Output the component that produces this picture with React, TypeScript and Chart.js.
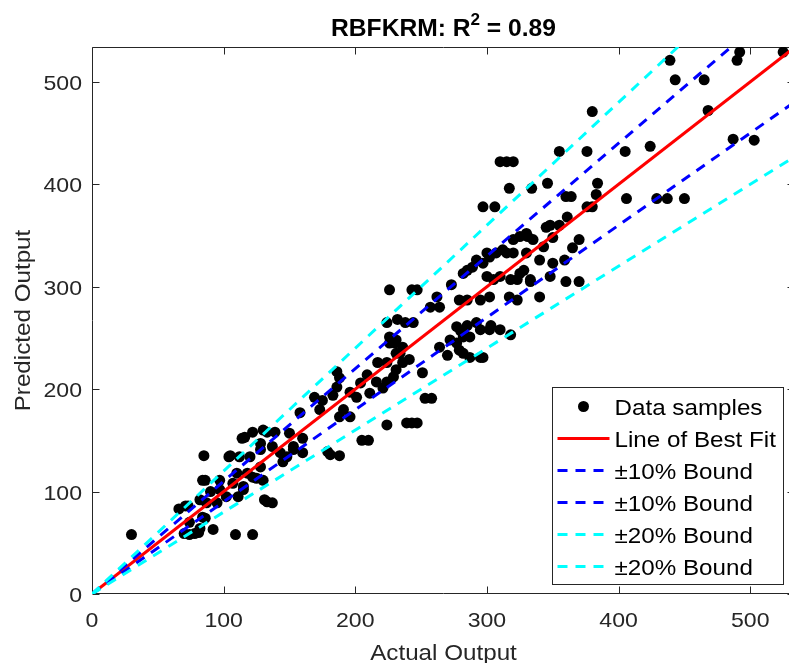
import { useEffect, useRef } from "react";
import { Chart, registerables } from "chart.js";

Chart.register(...registerables);

// ---- data ----
const actualOutput = [
  30, 70, 74, 78, 81, 109, 122, 92, 82, 74, 84, 86, 66, 73, 71, 82, 95, 87, 131, 133,
  137, 111, 102, 90, 97, 115, 115, 107, 84, 97, 86, 110, 118, 125, 122, 130, 128, 85, 105, 104,
  120, 112, 143, 148, 128, 137, 153, 160, 145, 153, 114, 116, 122, 130, 133, 139, 150, 128, 160, 179,
  188, 181, 205, 210, 158, 173, 191, 196, 188, 224, 239, 243, 247, 169, 175, 183, 186, 196, 201, 211,
  253, 258, 188, 186, 204, 209, 216, 224, 221, 229, 231, 251, 217, 236, 224, 234, 231, 241, 270, 282,
  287, 295, 297, 226, 230, 236, 231, 226, 264, 279, 277, 272, 282, 287, 318, 224, 232, 238, 244, 277,
  292, 295, 302, 310, 280, 285, 226, 243, 247, 257, 264, 273, 279, 285, 295, 302, 317, 323, 340, 282,
  289, 300, 305, 310, 318, 323, 333, 328, 325, 333, 360, 370, 348, 297, 302, 307, 312, 320, 330, 340,
  315, 350, 359, 365, 343, 320, 325, 331, 335, 345, 350, 370, 348, 355, 361, 297, 306, 376, 380, 360,
  364, 383, 406, 429, 437, 450, 317, 334, 346, 384, 310, 315, 320, 355, 376, 405, 424, 487, 503, 380,
  468, 443, 465, 439, 490, 492, 525, 300, 292, 285, 330, 262, 303,
];
const predictedOutput = [
  58, 59, 58, 59, 60, 58, 58, 63, 64, 70, 75, 74, 83, 86, 86, 92, 89, 89, 92, 90,
  89, 95, 95, 100, 102, 102, 105, 108, 111, 111, 111, 118, 118, 113, 114, 111, 124, 135, 135, 134,
  134, 134, 138, 134, 141, 144, 141, 138, 129, 144, 152, 153, 158, 160, 158, 158, 157, 147, 152, 139,
  135, 136, 150, 150, 177, 180, 180, 173, 173, 165, 167, 167, 167, 192, 189, 194, 202, 197, 192, 196,
  191, 191, 211, 217, 206, 214, 207, 207, 201, 212, 219, 216, 226, 226, 226, 235, 235, 229, 233, 235,
  231, 231, 231, 245, 245, 241, 248, 251, 241, 238, 245, 248, 251, 251, 253, 265, 268, 265, 265, 261,
  265, 258, 258, 258, 257, 262, 297, 297, 297, 280, 280, 302, 287, 287, 287, 290, 290, 287, 290, 313,
  319, 310, 307, 310, 307, 307, 307, 316, 313, 305, 305, 305, 310, 323, 329, 333, 336, 333, 333, 326,
  333, 323, 326, 338, 339, 346, 349, 349, 346, 358, 348, 346, 360, 360, 368, 378, 378, 378, 378, 388,
  388, 390, 386, 386, 386, 386, 396, 396, 401, 401, 422, 422, 422, 432, 432, 432, 437, 444, 443, 471,
  472, 502, 502, 521, 521, 529, 529, 333, 326, 316, 352, 290, 262,
];

const fitSlope = 1.0;
const boundSlopes = [1.1, 0.9, 1.2, 0.8];
const lineRange = [0, 534];
const xTickValues = [0, 100, 200, 300, 400, 500];
const yTickValues = [0, 100, 200, 300, 400, 500];
const axisMax = 534;
const legendLabels = [
  "Data samples",
  "Line of Best Fit",
  "±10% Bound",
  "±10% Bound",
  "±20% Bound",
  "±20% Bound",
];
const titleParts = ["RBFKRM: R", "2", " = 0.89"];
const xTitle = "Actual Output";
const yTitle = "Predicted Output";

// ---- style ----
const FONT = "'Liberation Sans', Arial, Helvetica, sans-serif";
const AXIS = "#262626";
const DASH = [10, 8];
const SX = 1.1; // horizontal glyph stretch to match the reference font width

const linePts = (slope: number) => lineRange.map((x) => ({ x, y: slope * x }));

function drawText(
  ctx: CanvasRenderingContext2D,
  text: string,
  x: number,
  y: number,
  font: string,
  color: string,
  align: CanvasTextAlign,
  sx: number,
  rot = 0
) {
  ctx.save();
  ctx.translate(x, y);
  if (rot) ctx.rotate(rot);
  ctx.scale(sx, 1);
  ctx.font = font;
  ctx.fillStyle = color;
  ctx.textAlign = align;
  ctx.textBaseline = "alphabetic";
  ctx.fillText(text, 0, 0);
  ctx.restore();
}

const decorPlugin = {
  id: "decor",
  beforeDatasetsDraw(chart: any) {
    const { ctx, chartArea: a, scales } = chart;
    ctx.save();
    ctx.strokeStyle = AXIS;
    ctx.lineWidth = 1;
    ctx.beginPath();
    const L = Math.round(a.left) + 0.5;
    const R = Math.round(a.right) - 0.5;
    const T = Math.round(a.top) + 0.5;
    const B = Math.round(a.bottom) - 0.5;
    ctx.moveTo(L, T);
    ctx.lineTo(R, T);
    ctx.lineTo(R, B);
    ctx.lineTo(L, B);
    ctx.closePath();
    const tl = 7;
    xTickValues.forEach((v) => {
      const x = Math.round(scales.x.getPixelForValue(v)) + 0.5;
      ctx.moveTo(x, B);
      ctx.lineTo(x, B - tl);
      ctx.moveTo(x, T);
      ctx.lineTo(x, T + tl);
    });
    yTickValues.forEach((v) => {
      const y = Math.round(scales.y.getPixelForValue(v)) + 0.5;
      ctx.moveTo(L, y);
      ctx.lineTo(L + tl, y);
      ctx.moveTo(R, y);
      ctx.lineTo(R - tl, y);
    });
    ctx.stroke();
    ctx.restore();

    // tick labels
    const tickFont = `21px ${FONT}`;
    xTickValues.forEach((v) => {
      drawText(ctx, String(v), scales.x.getPixelForValue(v), a.bottom + 33, tickFont, AXIS, "center", SX);
    });
    yTickValues.forEach((v) => {
      drawText(ctx, String(v), a.left - 10, scales.y.getPixelForValue(v) + 8, tickFont, AXIS, "right", SX);
    });
    // axis titles
    const titleFont = `22px ${FONT}`;
    drawText(ctx, xTitle, (a.left + a.right) / 2, a.bottom + 66, titleFont, AXIS, "center", SX);
    drawText(ctx, yTitle, 30, (a.top + a.bottom) / 2, titleFont, AXIS, "center", SX, -Math.PI / 2);
  },
  afterDraw(chart: any) {
    const { ctx, chartArea: a } = chart;
    ctx.save();
    // title
    const mainFont = `bold 23px ${FONT}`;
    const supFont = `bold 16px ${FONT}`;
    const tsx = 1.07;
    ctx.font = mainFont;
    const w1 = ctx.measureText(titleParts[0]).width * tsx;
    const w3 = ctx.measureText(titleParts[2]).width * tsx;
    ctx.font = supFont;
    const w2 = ctx.measureText(titleParts[1]).width * tsx;
    const cx = (a.left + a.right) / 2;
    let tx = cx - (w1 + w2 + w3) / 2;
    drawText(ctx, titleParts[0], tx, 36, mainFont, "#000", "left", tsx);
    tx += w1;
    drawText(ctx, titleParts[1], tx, 25, supFont, "#000", "left", tsx);
    tx += w2;
    drawText(ctx, titleParts[2], tx, 36, mainFont, "#000", "left", tsx);

    // legend
    const bx = Math.round(a.right - 243) + 0.5;
    const by = Math.round(a.bottom - 207) + 0.5;
    const bw = 231;
    const bh = 197;
    ctx.fillStyle = "#fff";
    ctx.fillRect(bx, by, bw, bh);
    ctx.strokeStyle = AXIS;
    ctx.lineWidth = 1;
    ctx.strokeRect(bx, by, bw, bh);
    chart.data.datasets.forEach((ds: any, i: number) => {
      const y = by + 19 + i * 32;
      if (ds.showLine) {
        ctx.save();
        ctx.strokeStyle = ds.borderColor;
        ctx.lineWidth = ds.borderWidth;
        ctx.setLineDash(ds.borderDash || []);
        ctx.beginPath();
        ctx.moveTo(bx + 5, y);
        ctx.lineTo(bx + 57, y);
        ctx.stroke();
        ctx.restore();
      } else {
        ctx.fillStyle = ds.backgroundColor;
        ctx.beginPath();
        ctx.arc(bx + 31, y, 5.5, 0, Math.PI * 2);
        ctx.fill();
      }
      drawText(ctx, legendLabels[i], bx + 62, y + 8, `22px ${FONT}`, "#000", "left", SX);
    });
    ctx.restore();
  },
};

export default function App() {
  const ref = useRef<HTMLCanvasElement>(null);
  useEffect(() => {
    document.body.style.margin = "0";
    document.body.style.overflow = "hidden";
    const points = actualOutput.map((x, i) => ({ x, y: predictedOutput[i] }));
    const lineDs = (slope: number, color: string, dash: number[], order: number, label: string) => ({
      label,
      data: linePts(slope),
      showLine: true,
      borderColor: color,
      backgroundColor: color,
      borderWidth: 3,
      borderDash: dash,
      pointRadius: 0,
      order,
    });
    const chart = new Chart(ref.current!, {
      type: "scatter",
      data: {
        datasets: [
          {
            label: legendLabels[0],
            data: points,
            backgroundColor: "#000",
            borderColor: "#000",
            pointRadius: 5.5,
            pointBorderWidth: 0,
            order: 10,
          } as any,
          lineDs(fitSlope, "#ff0000", [], 5, legendLabels[1]),
          lineDs(boundSlopes[0], "#0000ff", DASH, 4, legendLabels[2]),
          lineDs(boundSlopes[1], "#0000ff", DASH, 3, legendLabels[3]),
          lineDs(boundSlopes[2], "#00ffff", DASH, 2, legendLabels[4]),
          lineDs(boundSlopes[3], "#00ffff", DASH, 1, legendLabels[5]),
        ],
      },
      options: {
        animation: false,
        responsive: false,
        devicePixelRatio: 1,
        layout: { padding: { left: 0, right: 15, top: 47, bottom: 0 } },
        plugins: {
          legend: { display: false },
          title: { display: false },
          tooltip: { enabled: false },
        },
        scales: {
          x: {
            type: "linear",
            min: 0,
            max: axisMax,
            afterBuildTicks: (s: any) => {
              s.ticks = xTickValues.map((v) => ({ value: v }));
            },
            afterFit: (s: any) => {
              s.height = 69;
            },
            grid: { display: false, drawTicks: false },
            border: { display: false },
            ticks: { display: false },
            title: { display: false, text: xTitle },
          },
          y: {
            type: "linear",
            min: 0,
            max: axisMax,
            afterBuildTicks: (s: any) => {
              s.ticks = yTickValues.map((v) => ({ value: v }));
            },
            afterFit: (s: any) => {
              s.width = 92;
            },
            grid: { display: false, drawTicks: false },
            border: { display: false },
            ticks: { display: false },
            title: { display: false, text: yTitle },
          },
        },
      } as any,
      plugins: [decorPlugin],
    });
    return () => chart.destroy();
  }, []);
  return (
    <div style={{ width: 789, height: 663, overflow: "hidden" }}>
      <canvas ref={ref} width={810} height={663} style={{ display: "block" }} />
    </div>
  );
}
